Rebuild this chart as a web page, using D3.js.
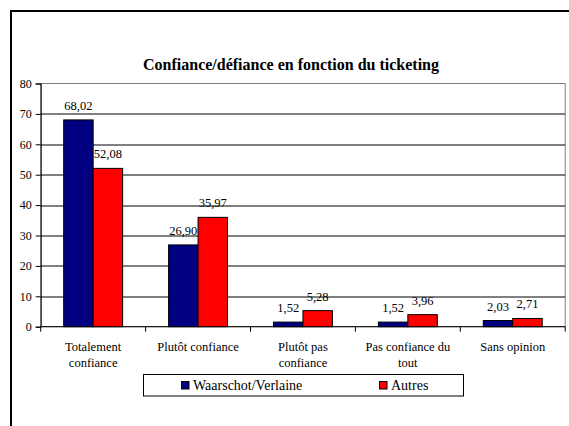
<!DOCTYPE html>
<html>
<head>
<meta charset="utf-8">
<script src="https://d3js.org/d3.v7.min.js"></script>
<style>
  body { margin: 0; background: #fff; }
</style>
</head>
<body>
<div id="my_dataviz"></div>
<script>
// chart data
var categories = [["Totalement", "confiance"], ["Plutôt confiance"], ["Plutôt pas", "confiance"], ["Pas confiance du", "tout"], ["Sans opinion"]];
var seriesNames = ["Waarschot/Verlaine", "Autres"];
var waarschot = [68.02, 26.90, 1.52, 1.52, 2.03];
var autres = [52.08, 35.97, 5.28, 3.96, 2.71];
var yTicks = [0, 10, 20, 30, 40, 50, 60, 70, 80];
var colors = ["#000080", "#ff0000"];

var FONT = "'Liberation Serif', 'DejaVu Serif', 'Times New Roman', serif";

// rows for the grouped bars
var dataset = categories.map(function(c, i) {
  return { cat: i, values: [waarschot[i], autres[i]] };
});

var W = 569, H = 426;
var margin = {left: 40.7, right: 3.8, top: 83.5, bottom: 99.3};
var width = W - margin.left - margin.right,
    height = H - margin.top - margin.bottom;

var svg = d3.select("#my_dataviz")
  .append("svg")
    .attr("width", W)
    .attr("height", H)
    .style("font-family", FONT);

// outer frame (right and bottom edges fall outside the picture)
svg.append("rect")
  .attr("x", 11).attr("y", 11)
  .attr("width", 600).attr("height", 500)
  .attr("fill", "none")
  .attr("stroke", "#000")
  .attr("stroke-width", 2);

// title
svg.append("text")
  .attr("x", 291).attr("y", 69.5)
  .attr("text-anchor", "middle")
  .style("font-family", FONT)
  .style("font-size", "16px")
  .style("font-weight", "bold")
  .text("Confiance/défiance en fonction du ticketing");

var g = svg.append("g")
  .attr("transform", "translate(" + margin.left + "," + margin.top + ")");

// scales
var x0 = d3.scaleBand()
  .domain(d3.range(categories.length))
  .range([0, width])
  .padding(0);

var x1 = d3.scaleBand()
  .domain([0, 1])
  .range([0, x0.bandwidth()])
  .paddingInner(0)
  .paddingOuter(0.78);

var y = d3.scaleLinear()
  .domain([0, 80])
  .range([height, 0]);

// plot area border (grey)
g.append("rect")
  .attr("x", 0).attr("y", 0)
  .attr("width", width).attr("height", height)
  .attr("fill", "none")
  .attr("stroke", "#808080")
  .attr("stroke-width", 1);

// gridlines
g.append("g")
  .selectAll("line")
  .data(yTicks.filter(function(d) { return d > 0 && d < 80; }))
  .enter()
  .append("line")
    .attr("x1", 0).attr("x2", width)
    .attr("y1", function(d) { return Math.round(y(d)) + 0.5; })
    .attr("y2", function(d) { return Math.round(y(d)) + 0.5; })
    .attr("stroke", "#000")
    .attr("stroke-width", 1);

// Y axis
var yAxis = g.append("g")
  .call(d3.axisLeft(y).tickValues(yTicks).tickSize(5).tickPadding(4).tickFormat(d3.format("d")));
yAxis.attr("font-family", null);
yAxis.selectAll("text").style("font-size", "12px").style("font-family", FONT).attr("fill", "#000");
yAxis.select(".domain").attr("stroke", "#000");

// X axis with ticks at category boundaries
g.append("line")
  .attr("x1", 0).attr("x2", width)
  .attr("y1", height).attr("y2", height)
  .attr("stroke", "#000");
g.append("g")
  .selectAll("line")
  .data(d3.range(categories.length + 1))
  .enter()
  .append("line")
    .attr("x1", function(d) { return d * x0.step(); })
    .attr("x2", function(d) { return d * x0.step(); })
    .attr("y1", height).attr("y2", height + 5)
    .attr("stroke", "#000");

// category labels
var catLabels = g.append("g")
  .selectAll("text")
  .data(categories)
  .enter()
  .append("text")
    .attr("x", function(d, i) { return x0(i) + x0.bandwidth() / 2; })
    .attr("y", height + 24.3)
    .attr("text-anchor", "middle")
    .style("font-family", FONT)
    .style("font-size", "12.5px");
catLabels.selectAll("tspan")
  .data(function(d) { return d; })
  .enter()
  .append("tspan")
    .attr("x", function() { return d3.select(this.parentNode).attr("x"); })
    .attr("dy", function(d, i) { return i === 0 ? 0 : 16; })
    .text(function(d) { return d; });

// bars
var groups = g.append("g")
  .selectAll("g")
  .data(dataset)
  .enter()
  .append("g")
    .attr("transform", function(d) { return "translate(" + x0(d.cat) + ",0)"; });

groups.selectAll("rect")
  .data(function(d) { return d.values; })
  .enter()
  .append("rect")
    .attr("x", function(d, i) { return x1(i); })
    .attr("y", function(d) { return y(d); })
    .attr("width", x1.bandwidth())
    .attr("height", function(d) { return height - y(d); })
    .style("fill", function(d, i) { return colors[i]; })
    .attr("stroke", "#000")
    .attr("stroke-width", 1);

// value labels
groups.selectAll("text")
  .data(function(d) { return d.values; })
  .enter()
  .append("text")
    .attr("x", function(d, i) { return x1(i) + x1.bandwidth() / 2; })
    .attr("y", function(d) { return y(d) - 10; })
    .attr("text-anchor", "middle")
    .style("font-family", FONT)
    .style("font-size", "12.5px")
    .text(function(d) { return d.toFixed(2).replace(".", ","); });

// legend
var legend = svg.append("g");
legend.append("rect")
  .attr("x", 143.5).attr("y", 374.5)
  .attr("width", 320).attr("height", 21.5)
  .attr("fill", "#fff")
  .attr("stroke", "#000");
var legX = [181, 379];
var items = legend.selectAll("g.item")
  .data(seriesNames)
  .enter()
  .append("g")
    .attr("class", "item")
    .attr("transform", function(d, i) { return "translate(" + legX[i] + ",0)"; });
items.append("rect")
  .attr("x", 0.5).attr("y", 381.5)
  .attr("width", 7.5).attr("height", 7.5)
  .style("fill", function(d, i) { return colors[i]; })
  .attr("stroke", "#000");
items.append("text")
  .attr("x", 12).attr("y", 390)
  .style("font-family", FONT)
  .style("font-size", "14px")
  .text(function(d) { return d; });
</script>
</body>
</html>
